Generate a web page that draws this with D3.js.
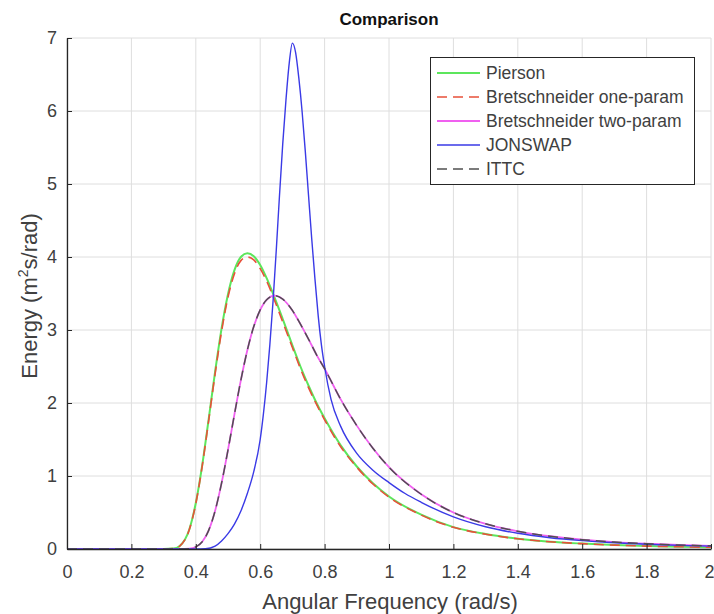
<!DOCTYPE html>
<html><head><meta charset="utf-8">
<script src="https://cdn.jsdelivr.net/npm/d3@7/dist/d3.min.js"></script>
<style>body{margin:0;background:#fff}svg{display:block;font-family:"Liberation Sans",Arial,sans-serif}</style>
</head><body><svg id="c" width="714" height="614"></svg>
<script>
// ---- data ----
const omegaA = [0,0.1,0.2,0.3,0.33,0.35,0.38,0.40,0.42,0.44,0.46,0.48,0.50,0.52,0.54,0.56,0.58,0.60,0.62,0.645,0.67,0.70,0.725,0.75,0.775,0.80,0.85,0.90,0.95,1.0,1.1,1.2,1.3,1.4,1.5,1.6,1.7,1.8,1.9,2.0];
const pierson = [0,0,0,0,0.006,0.042,0.27,0.63,1.15,1.78,2.43,3.02,3.49,3.82,4.00,4.05,4.01,3.89,3.71,3.44,3.15,2.79,2.50,2.24,2.00,1.79,1.42,1.13,0.90,0.72,0.47,0.30,0.205,0.142,0.10,0.074,0.054,0.041,0.031,0.024];
const bretOne = [0,0,0,0,0.006,0.041,0.267,0.62,1.14,1.76,2.40,2.98,3.45,3.77,3.95,4.00,3.96,3.84,3.67,3.40,3.11,2.76,2.47,2.21,1.98,1.77,1.40,1.12,0.89,0.71,0.465,0.297,0.203,0.14,0.099,0.073,0.053,0.04,0.031,0.024];
const bretTwo = [0,0,0,0,0,0,0.005,0.028,0.099,0.255,0.524,0.902,1.358,1.845,2.314,2.722,3.047,3.276,3.414,3.47,3.423,3.268,3.08,2.876,2.66,2.47,2.05,1.69,1.38,1.12,0.75,0.50,0.345,0.243,0.175,0.128,0.095,0.072,0.055,0.043];
const ittc = [0,0,0,0,0,0,0.005,0.028,0.099,0.255,0.524,0.902,1.358,1.845,2.314,2.722,3.047,3.276,3.414,3.47,3.423,3.268,3.08,2.876,2.66,2.47,2.05,1.69,1.38,1.12,0.75,0.50,0.345,0.243,0.175,0.128,0.095,0.072,0.055,0.043];
const omegaJ = [0,0.2,0.4,0.43,0.46,0.48,0.50,0.52,0.54,0.56,0.58,0.60,0.61,0.62,0.63,0.64,0.65,0.66,0.67,0.68,0.69,0.70,0.71,0.72,0.73,0.74,0.75,0.76,0.77,0.78,0.79,0.80,0.82,0.85,0.90,0.95,1.0,1.05,1.1,1.2,1.3,1.4,1.5,1.6,1.7,1.8,1.9,2.0];
const jonswap = [0,0,0,0.003,0.04,0.11,0.21,0.34,0.52,0.76,1.06,1.5,1.85,2.28,2.8,3.4,4.1,4.85,5.55,6.15,6.65,6.93,6.8,6.45,6.0,5.45,4.85,4.25,3.7,3.2,2.8,2.5,2.05,1.68,1.31,1.08,0.91,0.76,0.64,0.44,0.305,0.215,0.155,0.115,0.085,0.065,0.05,0.04];
const xTicks = [0,0.2,0.4,0.6,0.8,1,1.2,1.4,1.6,1.8,2];
const xTickLabels = ["0","0.2","0.4","0.6","0.8","1","1.2","1.4","1.6","1.8","2"];
const yTicks = [0,1,2,3,4,5,6,7];
const seriesNames = ["Pierson","Bretschneider one-param","Bretschneider two-param","JONSWAP","ITTC"];

// ---- layout ----
const L = 67, R = 711, T = 38, B = 549;
const svg = d3.select("#c");
const x = d3.scaleLinear().domain([0,2]).range([L,R]);
const y = d3.scaleLinear().domain([0,7]).range([B,T]);
const ink = "#262626";
const txt = "#404040";

// grid
const g = svg.append("g");
g.selectAll(".gx").data(xTicks).join("line")
  .attr("x1",d=>x(d)).attr("x2",d=>x(d)).attr("y1",T).attr("y2",B)
  .attr("stroke","#dedede").attr("stroke-width",1);
g.selectAll(".gy").data(yTicks).join("line")
  .attr("x1",L).attr("x2",R).attr("y1",d=>y(d)).attr("y2",d=>y(d))
  .attr("stroke","#dedede").attr("stroke-width",1);

// series
const styles = [
  {xs:omegaA, ys:pierson, color:"#5ce65c", w:2, dash:null},
  {xs:omegaA, ys:bretOne, color:"#e8503a", w:1.6, dash:"10,6"},
  {xs:omegaA, ys:bretTwo, color:"#f060f0", w:1.8, dash:null},
  {xs:omegaJ, ys:jonswap, color:"#3a3ae6", w:1.4, dash:null},
  {xs:omegaA, ys:ittc, color:"#505050", w:1.5, dash:"10,6"}
];
const line = d3.line().x(d=>x(d[0])).y(d=>y(d[1])).curve(d3.curveMonotoneX);
styles.forEach(s=>{
  svg.append("path").datum(s.xs.map((v,i)=>[v,s.ys[i]]))
    .attr("d",line).attr("fill","none").attr("stroke",s.color)
    .attr("stroke-width",s.w).attr("stroke-dasharray",s.dash)
    .attr("stroke-linejoin","round");
});

// axes
const xa = svg.append("g").attr("transform",`translate(0,${B})`)
  .call(d3.axisBottom(x).tickValues(xTicks).tickFormat((d,i)=>xTickLabels[i]).tickSizeInner(-5).tickSizeOuter(0).tickPadding(16));
const ya = svg.append("g").attr("transform",`translate(${L},0)`)
  .call(d3.axisLeft(y).tickValues(yTicks).tickFormat(d3.format("d")).tickSizeInner(-5).tickSizeOuter(0).tickPadding(10));
[xa,ya].forEach(a=>{
  a.select(".domain").attr("stroke",ink).attr("stroke-width",1.3);
  a.selectAll(".tick line").attr("stroke",ink);
  a.selectAll(".tick text").attr("fill",txt).attr("font-size",18).attr("font-family","Liberation Sans, Arial, sans-serif");
});
// keep the last x label inside the window
xa.selectAll(".tick text").filter((d,i)=>i===xTicks.length-1).attr("text-anchor","end").attr("dx",3);

// title & labels
svg.append("text").attr("x",389).attr("y",25).attr("text-anchor","middle")
  .attr("font-size",17).attr("font-weight","bold").attr("fill","#111").text("Comparison");
svg.append("text").attr("x",390).attr("y",609).attr("text-anchor","middle")
  .attr("font-size",22).attr("fill",txt).text("Angular Frequency (rad/s)");
const yl = svg.append("text").attr("transform","translate(37,296) rotate(-90)")
  .attr("text-anchor","middle").attr("font-size",22).attr("fill",txt);
yl.append("tspan").text("Energy (m");
yl.append("tspan").attr("font-size",14).attr("dy",-9).text("2");
yl.append("tspan").attr("dy",9).text("s/rad)");

// legend
const lg = svg.append("g");
lg.append("rect").attr("x",430.5).attr("y",57.5).attr("width",264).attr("height",127)
  .attr("fill","#fff").attr("stroke","#262626").attr("stroke-width",1);
seriesNames.forEach((n,i)=>{
  const yy = 73 + i*24;
  const s = styles[i];
  lg.append("line").attr("x1",437).attr("x2",480).attr("y1",yy).attr("y2",yy)
    .attr("stroke",s.color).attr("stroke-width",s.w).attr("stroke-dasharray",s.dash);
  lg.append("text").attr("x",486).attr("y",yy+6).attr("font-size",17.5).attr("fill",txt).text(n);
});
</script></body></html>
